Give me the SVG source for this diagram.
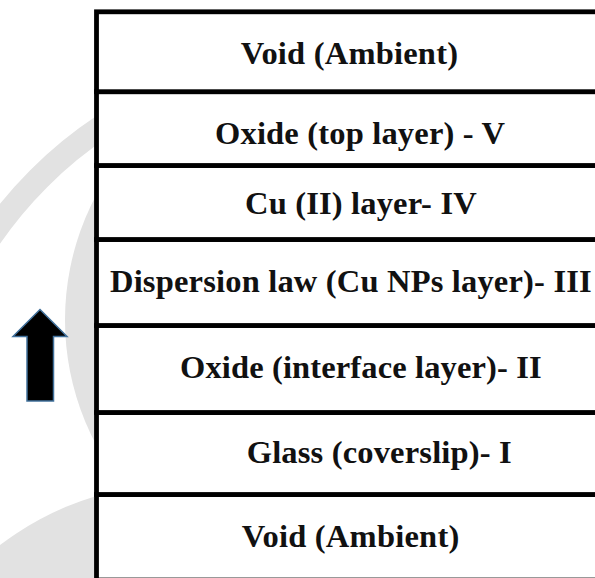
<svg xmlns="http://www.w3.org/2000/svg" width="595" height="578" viewBox="0 0 595 578">
  <style>
    .row { fill: #ffffff; stroke: #000000; stroke-width: 4.8; }
    .lbl { font-family: "Liberation Serif", "Times New Roman", serif; font-weight: bold; font-size: 32.5px; fill: #111111; }
    .wm { fill: none; stroke: #e2e2e2; }
  </style>
  <rect x="0" y="0" width="595" height="578" fill="#ffffff"/>
  <g id="watermark">
    <circle class="wm" cx="330" cy="470" r="412" stroke-width="24"/>
    <circle cx="330" cy="320" r="265" fill="#e2e2e2"/>
    <circle cx="180" cy="780" r="296" fill="#e2e2e2"/>
  </g>
  <g id="stack">
    <g id="row7">
      <rect class="row" x="96.5" y="494.5" width="560" height="85.5"/>
      <text class="lbl" x="241.7" y="547" textLength="217.6">Void (Ambient)</text>
    </g>
    <g id="row6">
      <rect class="row" x="96.5" y="412.5" width="560" height="82"/>
      <text class="lbl" x="246.7" y="463" textLength="265">Glass (coverslip)- I</text>
    </g>
    <g id="row5">
      <rect class="row" x="96.5" y="325.5" width="560" height="87"/>
      <text class="lbl" x="180" y="378" textLength="361.7">Oxide (interface layer)- II</text>
    </g>
    <g id="row4">
      <rect class="row" x="96.5" y="239.5" width="560" height="86"/>
      <text class="lbl" x="110" y="291.7" textLength="481.7">Dispersion law (Cu NPs layer)- III</text>
    </g>
    <g id="row3">
      <rect class="row" x="96.5" y="165.5" width="560" height="74"/>
      <text class="lbl" x="245" y="214" textLength="231.7">Cu (II) layer- IV</text>
    </g>
    <g id="row2">
      <rect class="row" x="96.5" y="91.7" width="560" height="73.8"/>
      <text class="lbl" x="215" y="144" textLength="290">Oxide (top layer) - V</text>
    </g>
    <g id="row1">
      <rect class="row" x="96.5" y="11.8" width="560" height="79.9"/>
      <text class="lbl" x="240.7" y="64" textLength="217.3">Void (Ambient)</text>
    </g>
  </g>
  <g id="connectors">
    <path d="M40,309.5 L67,336.5 L53.5,336.5 L53.5,401 L27,401 L27,336.5 L13,336.5 Z" fill="#000000" stroke="#41719c" stroke-width="1.5" stroke-linejoin="miter"/>
  </g>
</svg>
